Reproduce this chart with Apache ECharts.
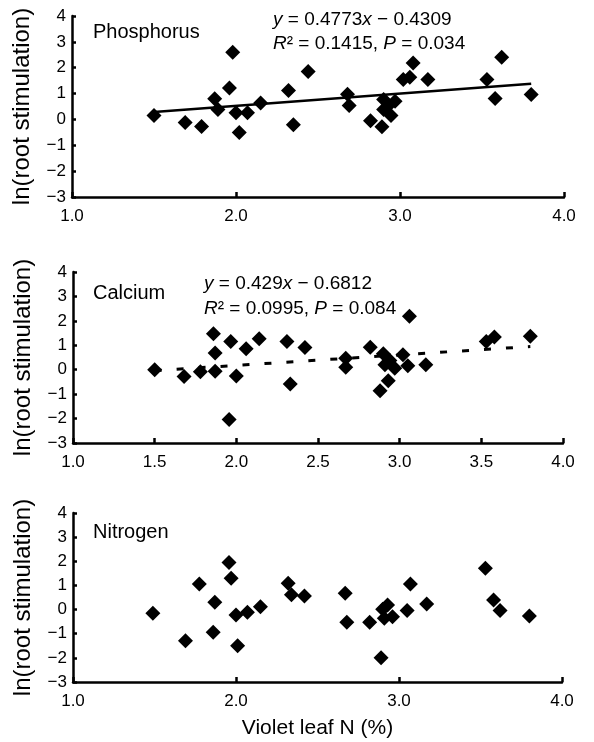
<!DOCTYPE html>
<html><head><meta charset="utf-8">
<script src="https://cdn.jsdelivr.net/npm/echarts@6/dist/echarts.min.js"></script>
<style>html,body{margin:0;padding:0;background:#fff}#c{width:594px;height:742px}</style>
</head><body><div id="c"></div>
<script>
// Phosphorus panel
const pX = [1.50,1.69,1.79,1.87,1.89,1.96,1.98,2.00,2.02,2.07,2.15,2.32,2.35,2.44,2.68,2.69,2.82,2.89,2.90,2.90,2.93,2.945,2.97,3.02,3.06,3.08,3.17,3.53,3.58,3.62,3.80];
const pY = [0.15,-0.12,-0.27,0.80,0.38,1.22,2.60,0.26,-0.51,0.26,0.64,1.12,-0.21,1.85,0.97,0.54,-0.05,-0.28,0.77,0.38,0.54,0.15,0.70,1.54,1.63,2.18,1.54,1.54,0.81,2.40,0.96];
const pTrend = [[1.5, 0.285], [3.8, 1.383]];
// Calcium panel
const cX = [1.50,1.68,1.78,1.86,1.87,1.87,1.956,1.966,2.00,2.06,2.14,2.31,2.33,2.42,2.67,2.67,2.82,2.88,2.90,2.91,2.94,2.93,2.97,3.02,3.05,3.06,3.16,3.53,3.58,3.80];
const cY = [0.00,-0.28,-0.08,1.47,0.68,-0.06,-2.04,1.16,-0.26,0.86,1.27,1.16,-0.58,0.91,0.47,0.10,0.92,-0.86,0.65,0.20,0.38,-0.45,0.06,0.61,0.16,2.19,0.20,1.16,1.34,1.37];
const cTrend = [[1.5, -0.0377], [3.8, 0.9490]];
// Nitrogen panel
const nX = [1.49,1.69,1.775,1.87,1.86,1.957,1.97,2.00,2.01,2.07,2.15,2.32,2.34,2.42,2.67,2.68,2.82,2.89,2.90,2.93,2.91,2.96,3.05,3.07,3.17,3.53,3.58,3.62,3.80];
const nY = [-0.15,-1.29,1.06,0.30,-0.94,1.95,1.30,-0.22,-1.50,-0.11,0.12,1.09,0.61,0.56,0.68,-0.53,-0.53,-2.00,0.01,0.19,-0.36,-0.30,-0.04,1.06,0.23,1.71,0.40,-0.04,-0.27];

const panelNames = ['Phosphorus', 'Calcium', 'Nitrogen'];
const yName = 'ln(root stimulation)';
const xName = 'Violet leaf N (%)';
const xIntervals = [1, 0.5, 1];

const FONT = '"Liberation Sans", Arial, Helvetica, sans-serif';
const zip = (a, b) => a.map((v, i) => [v, b[i]]);

const grids = [
  {left: 72, top: 16, width: 492, height: 181},
  {left: 73, top: 272, width: 490, height: 171},
  {left: 73, top: 513, width: 489, height: 169}
];

const axisLineStyle = {color: '#000', width: 2.5};
const xAxes = grids.map((g, i) => ({
  type: 'value', gridIndex: i, min: 1, max: 4, interval: xIntervals[i],
  axisLine: {show: true, onZero: false, lineStyle: axisLineStyle},
  axisTick: {show: true, inside: true, length: 5, lineStyle: {color: '#000', width: 2.5}},
  axisLabel: {color: '#000', fontSize: 17, fontFamily: FONT, margin: 11, formatter: v => v.toFixed(1)},
  splitLine: {show: false},
  name: i === 2 ? xName : '', nameLocation: 'middle', nameGap: 36,
  nameTextStyle: {color: '#000', fontSize: 21, fontFamily: FONT}
}));
const yAxes = grids.map((g, i) => ({
  type: 'value', gridIndex: i, min: -3, max: 4, interval: 1,
  axisLine: {show: true, onZero: false, lineStyle: axisLineStyle},
  axisTick: {show: true, inside: true, length: 4, lineStyle: {color: '#000', width: 2.5}},
  axisLabel: {color: '#000', fontSize: 17, fontFamily: FONT, margin: 6, formatter: v => String(v).replace('-', '\u2212')},
  splitLine: {show: false},
  name: yName, nameLocation: 'middle', nameGap: 38,
  nameTextStyle: {color: '#000', fontSize: 24, fontFamily: FONT}
}));

const scatter = (data, i) => ({
  type: 'scatter', xAxisIndex: i, yAxisIndex: i, data: data,
  symbol: 'diamond', symbolSize: 15, itemStyle: {color: '#000', opacity: 1}, z: 3
});

const rich = {
  i: {fontStyle: 'italic', fontSize: 19, fontFamily: FONT, color: '#000'},
  n: {fontSize: 19, fontFamily: FONT, color: '#000'}
};
const eqTitle = (lines, left, top, lh) => ({
  text: lines, left: left, top: top, padding: 0,
  textStyle: {fontSize: 19, fontFamily: FONT, color: '#000', fontWeight: 'normal', lineHeight: lh, rich: rich}
});
const nameTitle = (t, top) => ({
  text: t, left: 93, top: top, padding: 0,
  textStyle: {fontSize: 20, fontFamily: FONT, color: '#000', fontWeight: 'normal'}
});

const option = {
  animation: false,
  backgroundColor: '#fff',
  grid: grids,
  xAxis: xAxes,
  yAxis: yAxes,
  title: [
    nameTitle(panelNames[0], 22),
    nameTitle(panelNames[1], 283),
    nameTitle(panelNames[2], 522),
    eqTitle('{i|y}{n| = 0.4773}{i|x}{n| \u2212 0.4309}\n{i|R}{n|\u00b2 = 0.1415, }{i|P}{n| = 0.034}', 273, 8, 24),
    eqTitle('{i|y}{n| = 0.429}{i|x}{n| \u2212 0.6812}\n{i|R}{n|\u00b2 = 0.0995, }{i|P}{n| = 0.084}', 204, 271, 25)
  ],
  series: [
    {type: 'line', xAxisIndex: 0, yAxisIndex: 0, data: pTrend, symbol: 'none',
      lineStyle: {color: '#000', width: 2.5, type: 'solid'}, z: 2},
    {type: 'line', xAxisIndex: 1, yAxisIndex: 1, data: cTrend, symbol: 'none',
      lineStyle: {color: '#000', width: 3, type: [7, 15]}, z: 2},
    scatter(zip(pX, pY), 0),
    scatter(zip(cX, cY), 1),
    scatter(zip(nX, nY), 2)
  ]
};
const chart = echarts.init(document.getElementById('c'), null, {renderer: 'canvas'});
chart.setOption(option);
</script></body></html>
